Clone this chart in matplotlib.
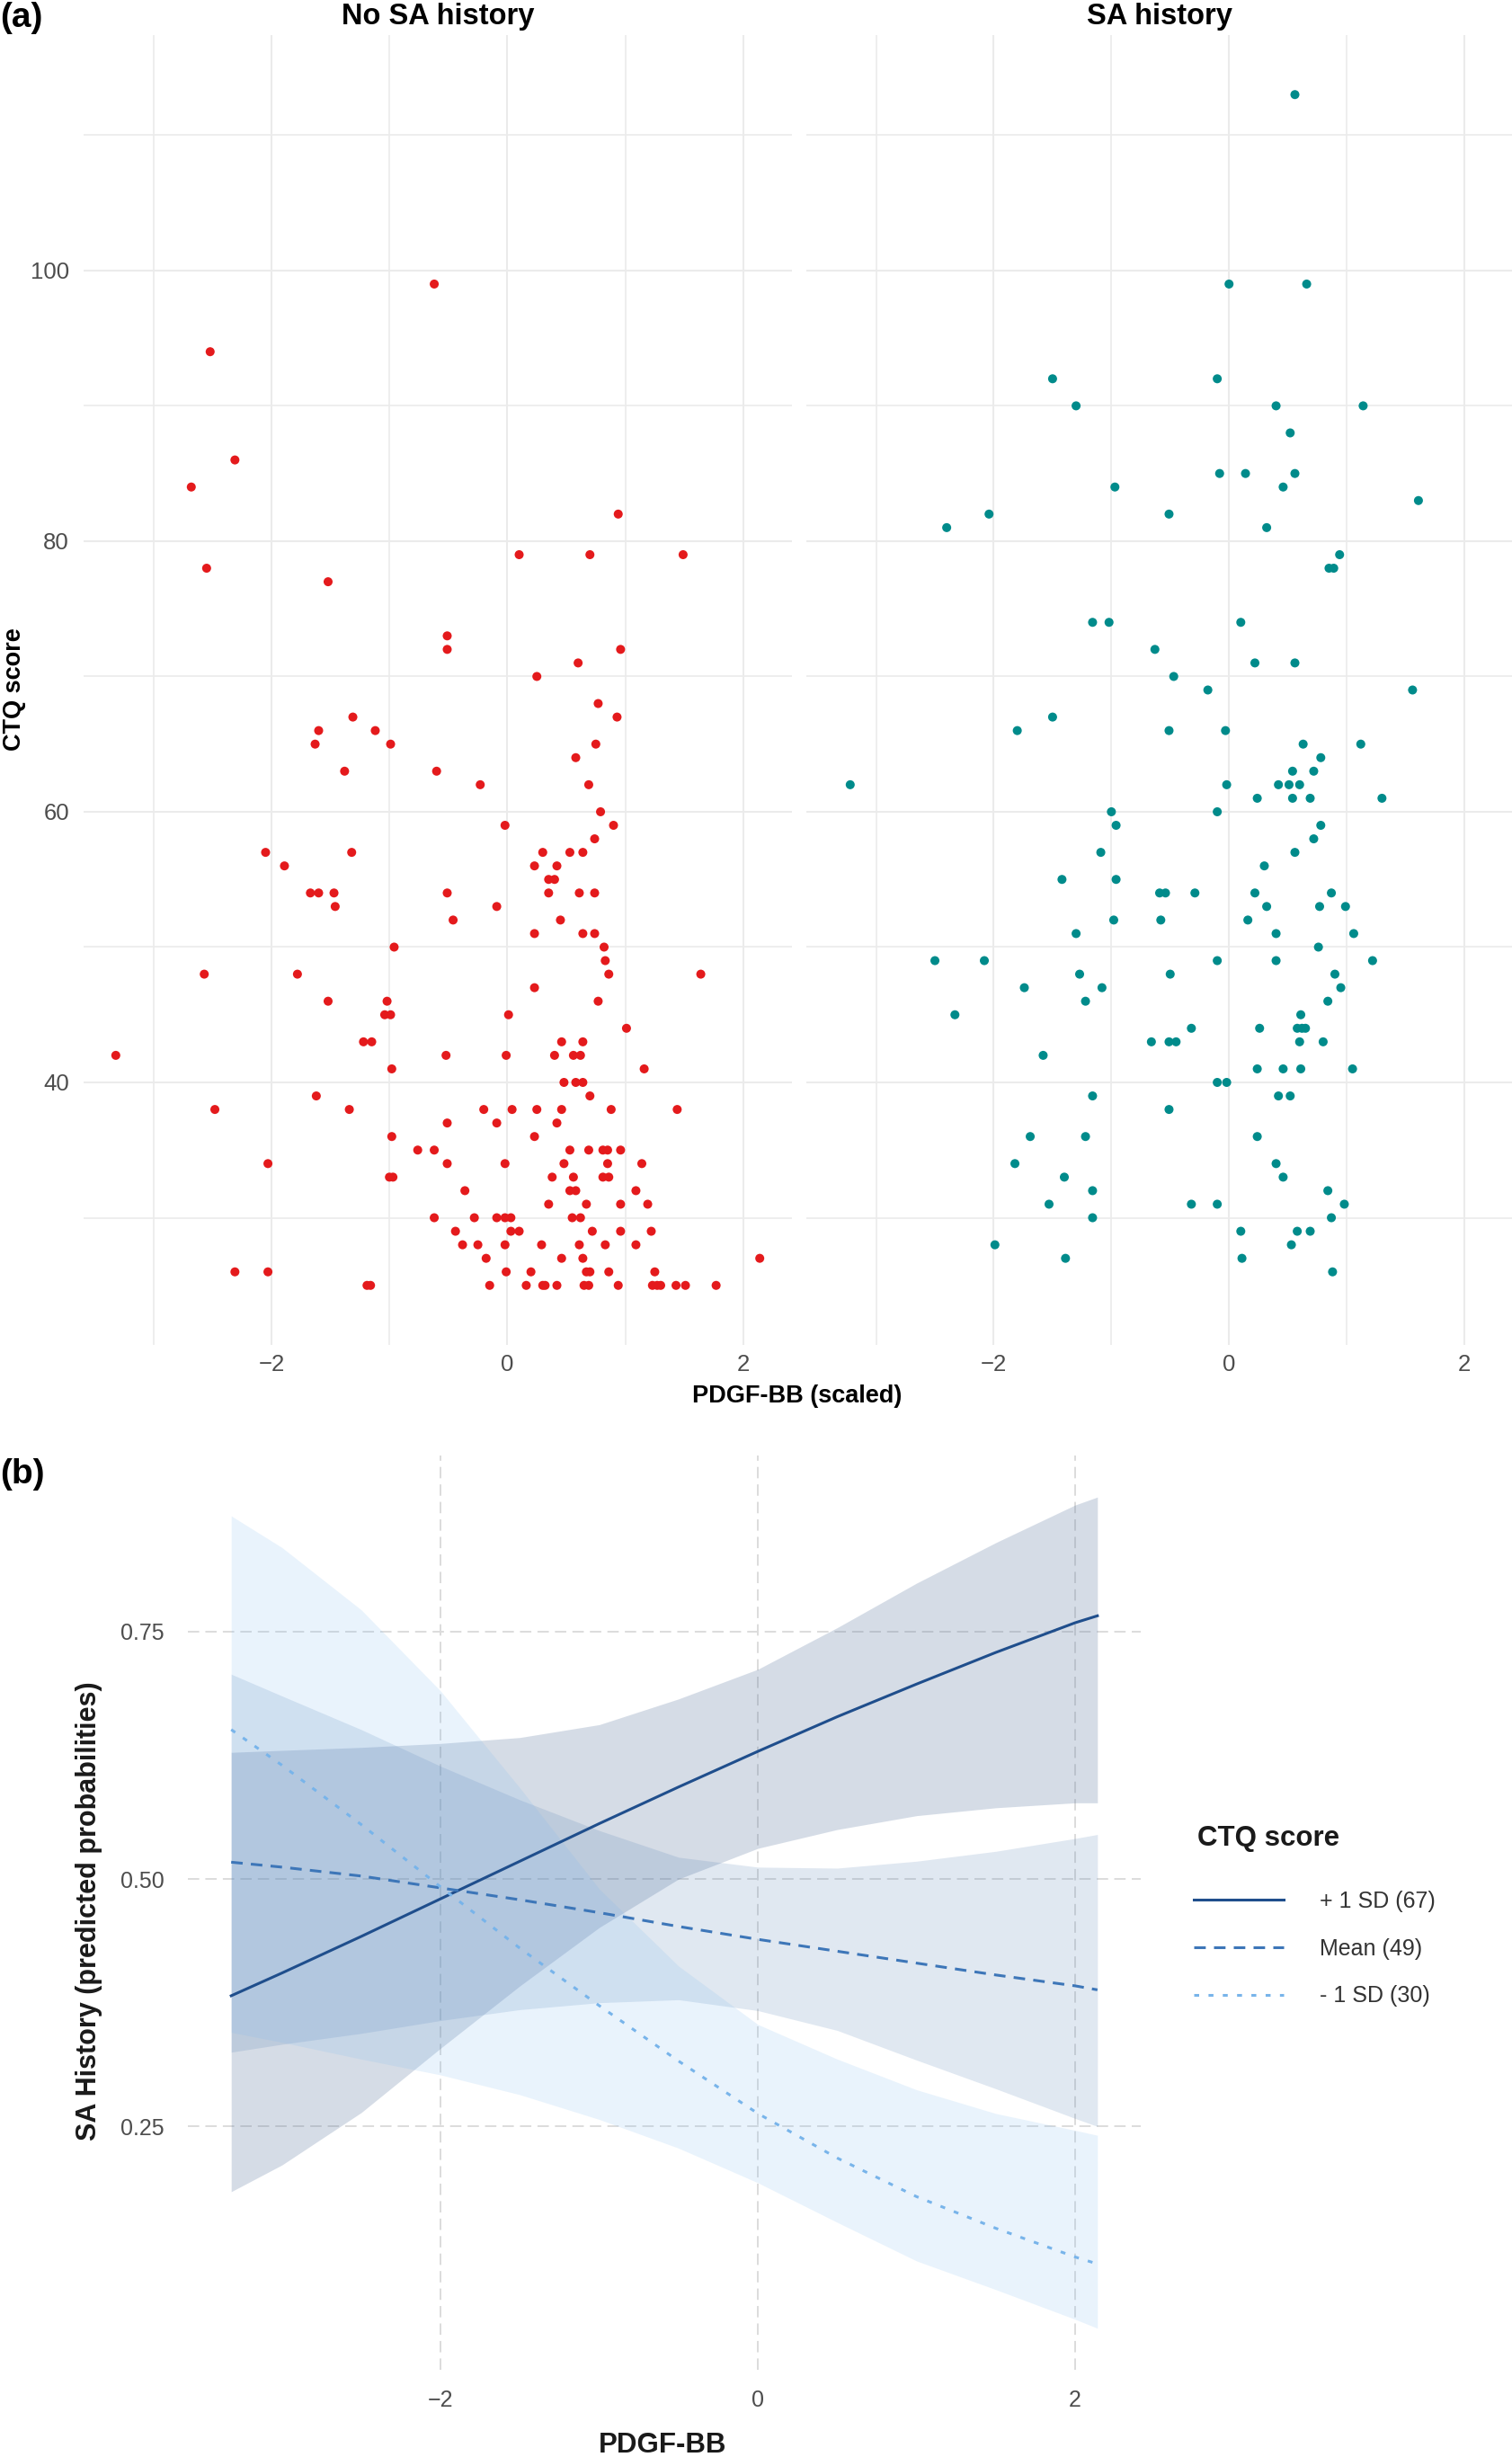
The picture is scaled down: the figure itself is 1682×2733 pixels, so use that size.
import matplotlib.pyplot as plt

plt.rcParams['font.family'] = ['Liberation Sans', 'DejaVu Sans']

# ---- panel (a): CTQ score vs scaled PDGF-BB, split by SA history ----
no_sa_pdgf = [
    -0.62, -2.52, -2.31, -2.68, 0.94, 0.10, 0.70, 1.49, -2.55, -1.52,
    -0.51, -0.51, 0.96, 0.60, 0.25, 0.77, -1.31, 0.93, -1.60, -1.12,
    -1.63, -0.99, 0.75, 0.58, -1.38, -0.60, 0.69, -0.23, 0.79, -0.02,
    0.90, 0.74, -2.05, -1.32, 0.30, 0.53, 0.64, -1.89, 0.23, 0.42,
    0.35, 0.40, -1.67, -1.60, -1.47, -0.51, 0.35, 0.61, 0.74, -1.46,
    -0.09, -0.46, 0.45, 0.23, 0.64, 0.74, -0.96, 0.82, 0.83, -2.57,
    -1.78, 0.86, 1.64, 0.23, -1.52, -1.02, 0.77, -1.04, -0.99, 0.01,
    1.01, -1.22, -1.15, 0.46, 0.64, -3.32, -0.52, -0.01, 0.40, 0.56,
    0.62, -0.98, 1.16, 0.48, 0.58, 0.64, -1.62, 0.70, -2.48, -1.34,
    -0.20, 0.04, 0.25, 0.46, 0.88, 1.44, -0.51, -0.09, 0.42, -0.98,
    0.23, -0.76, -0.62, 0.53, 0.69, 0.81, 0.85, 0.96, -2.03, -0.51,
    -0.02, 0.48, 0.85, 1.14, -1.00, -0.97, 0.38, 0.56, 0.81, 0.86,
    -0.36, 0.53, 0.58, 1.09, 0.35, 0.67, 0.96, 1.19, -0.62, -0.28,
    -0.09, -0.02, 0.03, 0.55, 0.62, -0.44, 0.03, 0.10, 0.72, 0.96,
    1.22, -0.38, -0.25, -0.02, 0.29, 0.61, 0.83, 1.09, -0.18, 0.46,
    0.64, 2.14, -2.31, -2.03, -0.01, 0.20, 0.67, 0.70, 0.86, 1.25,
    -1.19, -1.16, -0.15, 0.16, 0.30, 0.32, 0.42, 0.65, 0.69, 0.94,
    1.23, 1.27, 1.30, 1.43, 1.51, 1.77,
]
no_sa_ctq = [
    99, 94, 86, 84, 82, 79, 79, 79, 78, 77,
    73, 72, 72, 71, 70, 68, 67, 67, 66, 66,
    65, 65, 65, 64, 63, 63, 62, 62, 60, 59,
    59, 58, 57, 57, 57, 57, 57, 56, 56, 56,
    55, 55, 54, 54, 54, 54, 54, 54, 54, 53,
    53, 52, 52, 51, 51, 51, 50, 50, 49, 48,
    48, 48, 48, 47, 46, 46, 46, 45, 45, 45,
    44, 43, 43, 43, 43, 42, 42, 42, 42, 42,
    42, 41, 41, 40, 40, 40, 39, 39, 38, 38,
    38, 38, 38, 38, 38, 38, 37, 37, 37, 36,
    36, 35, 35, 35, 35, 35, 35, 35, 34, 34,
    34, 34, 34, 34, 33, 33, 33, 33, 33, 33,
    32, 32, 32, 32, 31, 31, 31, 31, 30, 30,
    30, 30, 30, 30, 30, 29, 29, 29, 29, 29,
    29, 28, 28, 28, 28, 28, 28, 28, 27, 27,
    27, 27, 26, 26, 26, 26, 26, 26, 26, 26,
    25, 25, 25, 25, 25, 25, 25, 25, 25, 25,
    25, 25, 25, 25, 25, 25,
]
sa_pdgf = [
    0.56, 0.00, 0.66, -1.50, -0.10, -1.30, 0.40, 1.14, 0.52, -0.08,
    0.14, 0.56, -0.97, 0.46, 1.61, -2.40, -2.04, -0.51, 0.32, 0.94,
    0.85, 0.89, -1.16, -1.02, 0.10, -0.63, 0.22, 0.56, -0.47, -0.18,
    1.56, -1.50, -1.80, -0.51, -0.03, 0.63, 1.12, 0.78, 0.54, 0.72,
    -3.22, -0.02, 0.42, 0.51, 0.60, 0.24, 0.54, 0.69, 1.30, -1.00,
    -0.10, -0.96, 0.78, 0.72, -1.09, 0.56, 0.30, -1.42, -0.96, -0.59,
    -0.54, -0.29, 0.22, 0.87, 0.32, 0.77, 0.99, -0.98, -0.58, 0.16,
    -1.30, 0.40, 1.06, 0.76, -2.50, -2.08, -0.10, 0.40, 1.22, -1.27,
    -0.50, 0.90, -1.74, -1.08, 0.95, -1.22, 0.84, -2.33, 0.61, -0.32,
    0.26, 0.58, 0.62, 0.65, -0.66, -0.51, -0.45, 0.60, 0.80, -1.58,
    0.24, 0.46, 0.61, 1.05, -0.10, -0.02, -1.16, 0.42, 0.52, -0.51,
    -1.69, -1.22, 0.24, -1.82, 0.40, -1.40, 0.46, -1.16, 0.84, -1.53,
    -0.32, -0.10, 0.98, -1.16, 0.87, 0.10, 0.58, 0.69, -1.99, 0.53,
    -1.39, 0.11, 0.88,
]
sa_ctq = [
    113, 99, 99, 92, 92, 90, 90, 90, 88, 85,
    85, 85, 84, 84, 83, 81, 82, 82, 81, 79,
    78, 78, 74, 74, 74, 72, 71, 71, 70, 69,
    69, 67, 66, 66, 66, 65, 65, 64, 63, 63,
    62, 62, 62, 62, 62, 61, 61, 61, 61, 60,
    60, 59, 59, 58, 57, 57, 56, 55, 55, 54,
    54, 54, 54, 54, 53, 53, 53, 52, 52, 52,
    51, 51, 51, 50, 49, 49, 49, 49, 49, 48,
    48, 48, 47, 47, 47, 46, 46, 45, 45, 44,
    44, 44, 44, 44, 43, 43, 43, 43, 43, 42,
    41, 41, 41, 41, 40, 40, 39, 39, 39, 38,
    36, 36, 36, 34, 34, 33, 33, 32, 32, 31,
    31, 31, 31, 30, 30, 29, 29, 29, 28, 28,
    27, 27, 26,
]
facet_titles = ['No SA history', 'SA history']

# ---- panel (b): predicted probabilities of SA history ----
pdgf_grid = [-3.32, -3.0, -2.5, -2.0, -1.5, -1.0, -0.5, 0.0, 0.5, 1.0, 1.5, 2.0, 2.14]
hi_fit = [0.382, 0.405, 0.442, 0.480, 0.518, 0.556, 0.593, 0.629, 0.664, 0.697, 0.729, 0.759, 0.766]
hi_low = [0.184, 0.211, 0.264, 0.329, 0.392, 0.451, 0.500, 0.531, 0.550, 0.564, 0.572, 0.577, 0.577]
hi_upp = [0.628, 0.630, 0.633, 0.637, 0.643, 0.656, 0.682, 0.712, 0.754, 0.799, 0.840, 0.878, 0.886]
mean_fit = [0.517, 0.512, 0.503, 0.491, 0.479, 0.466, 0.452, 0.439, 0.427, 0.415, 0.403, 0.392, 0.388]
mean_low = [0.325, 0.333, 0.344, 0.357, 0.368, 0.375, 0.378, 0.367, 0.347, 0.317, 0.288, 0.258, 0.250]
mean_upp = [0.707, 0.685, 0.651, 0.614, 0.580, 0.549, 0.522, 0.512, 0.511, 0.518, 0.528, 0.541, 0.545]
lo_fit = [0.651, 0.615, 0.555, 0.492, 0.430, 0.372, 0.316, 0.263, 0.218, 0.179, 0.147, 0.118, 0.111]
lo_low = [0.345, 0.335, 0.318, 0.302, 0.282, 0.257, 0.228, 0.193, 0.153, 0.114, 0.085, 0.055, 0.046]
lo_upp = [0.867, 0.835, 0.772, 0.690, 0.592, 0.490, 0.412, 0.353, 0.318, 0.287, 0.263, 0.246, 0.241]
ctq_labels = ['+ 1 SD (67)', 'Mean (49)', '- 1 SD (30)']

W, H = 1683, 2733


def box(left, top, right, bottom):
    """Pixel box (from top-left) -> figure fraction rect."""
    return [left / W, 1 - bottom / H, (right - left) / W, (bottom - top) / H]


def padded(vals, frac=0.05):
    lo, hi = min(vals), max(vals)
    pad = (hi - lo) * frac
    return lo - pad, hi + pad


fig = plt.figure(figsize=(W / 100, H / 100), dpi=100)

tick_col = '#4d4d4d'
grid_col = '#ebebeb'

# ---------------- panel (a) ----------------
xlim_a = padded(no_sa_pdgf + sa_pdgf)
ylim_a = padded(no_sa_ctq + sa_ctq)

ax_l = fig.add_axes(box(93, 39, 881, 1496))
ax_r = fig.add_axes(box(897, 39, 1683, 1496))

groups = [(ax_l, no_sa_pdgf, no_sa_ctq, '#e41a1c'),
          (ax_r, sa_pdgf, sa_ctq, '#008b8b')]
for ax, xs, ys, col in groups:
    ax.scatter(xs, ys, s=52, color=col, edgecolors='none', zorder=3)
    ax.set_xlim(xlim_a)
    ax.set_ylim(ylim_a)
    ax.set_xticks([-2, 0, 2])
    ax.set_xticks([-3, -1, 1], minor=True)
    ax.set_yticks([40, 60, 80, 100])
    ax.set_yticks([30, 50, 70, 90, 110], minor=True)
    ax.grid(which='major', color=grid_col, lw=1.5)
    ax.grid(which='minor', color=grid_col, lw=1.2)
    ax.set_axisbelow(True)
    for sp in ax.spines.values():
        sp.set_visible(False)
    ax.tick_params(which='both', length=0, labelsize=18.5, colors=tick_col)
    ax.tick_params(axis='x', pad=7)
    ax.tick_params(axis='y', pad=11.5)

ax_r.tick_params(axis='y', labelleft=False)

for ax, title in zip([ax_l, ax_r], facet_titles):
    cx = (ax.get_position().x0 + ax.get_position().x1) / 2
    fig.text(cx, 1 - 27 / H, title, ha='center', va='baseline',
             fontsize=23.5, weight='bold')

fig.text(0, 1 - 30 / H, '(a)', ha='left', va='baseline', fontsize=28, weight='bold')
fig.text(887 / W, 1 - 1553 / H, 'PDGF-BB (scaled)', ha='center', va='center',
         fontsize=19.5, weight='bold')
fig.text(16 / W, 1 - 767 / H, 'CTQ score', ha='center', va='center',
         rotation=90, fontsize=19.5, weight='bold')

# ---------------- panel (b) ----------------
ax_b = fig.add_axes(box(209, 1619, 1269, 2636))

ribbons = [
    (hi_low, hi_upp, '#52709a', 0.24),
    (mean_low, mean_upp, '#4a78b0', 0.17),
    (lo_low, lo_upp, '#7ab8f0', 0.16),
]
for low, upp, col, a in ribbons:
    ax_b.fill_between(pdgf_grid, low, upp, color=col, alpha=a, lw=0, zorder=2)

l_hi, = ax_b.plot(pdgf_grid, hi_fit, color='#1f4e8c', lw=2.2, zorder=4)
l_mean, = ax_b.plot(pdgf_grid, mean_fit, color='#3d76b8', lw=2.2,
                    ls=(0, (4.2, 3.0)), zorder=4)
l_lo, = ax_b.plot(pdgf_grid, lo_fit, color='#78b4ea', lw=2.2,
                  ls=(0, (1.8, 3.4)), zorder=4)

ax_b.set_xlim(padded(pdgf_grid))
ax_b.set_ylim(padded(hi_low + hi_upp + mean_low + mean_upp + lo_low + lo_upp))
ax_b.set_xticks([-2, 0, 2])
ax_b.set_yticks([0.25, 0.50, 0.75])
ax_b.set_yticklabels(['0.25', '0.50', '0.75'])
ax_b.grid(which='major', color='#dcdcdc', lw=1.4, ls=(0, (6.5, 3.5)))
ax_b.set_axisbelow(True)
for sp in ax_b.spines.values():
    sp.set_visible(False)
ax_b.tick_params(length=0, labelsize=18, colors=tick_col)
ax_b.tick_params(axis='x', pad=16)
ax_b.tick_params(axis='y', pad=18.7)

fig.text(0, 1 - 1650 / H, '(b)', ha='left', va='baseline', fontsize=28, weight='bold')
fig.text(737 / W, 1 - 2720 / H, 'PDGF-BB', ha='center', va='center',
         fontsize=22.5, weight='bold', color='#1a1a1a')
fig.text(99 / W, 1 - 2126 / H, 'SA History (predicted probabilities)', ha='center',
         va='center', rotation=90, fontsize=22, weight='bold', color='#1a1a1a')

# legend: title drawn separately so the gap to the keys matches
fig.text(1332 / W, 1 - 2053 / H, 'CTQ score', ha='left', va='baseline',
         fontsize=22.5, weight='bold', color='#1a1a1a')
ax_b.legend(
    handles=[l_hi, l_mean, l_lo], labels=ctq_labels,
    loc='upper left', bbox_to_anchor=(1328 / W, 1 - 2103 / H),
    bbox_transform=fig.transFigure, frameon=False, fontsize=18,
    handlelength=4.0, handletextpad=1.6, labelspacing=1.15,
    borderpad=0, borderaxespad=0, labelcolor='#333333',
)

fig.savefig('out.png', dpi=100)
